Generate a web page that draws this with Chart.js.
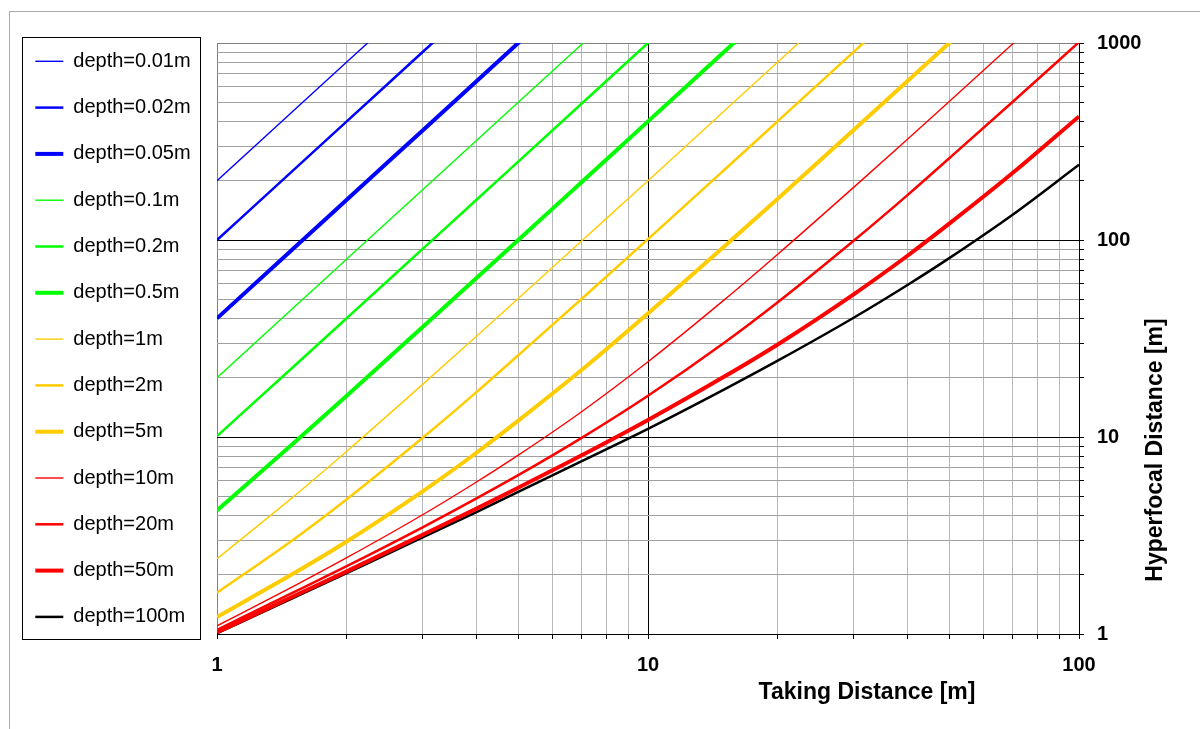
<!DOCTYPE html>
<html>
<head>
<meta charset="utf-8">
<title>Hyperfocal distance</title>
<script src="https://cdn.jsdelivr.net/npm/chart.js@4.4.1/dist/chart.umd.min.js"></script>
<style>
  body { margin: 0; background: #fff; }
  #graph-container { width: 1200px; height: 729px; }
</style>
</head>
<body>
<div id="graph-container"><canvas id="hyperfocal-graph" width="1200" height="729"></canvas></div>
<script>
// taking distance [m] where the curves were read
const takingDistance = [1, 1.5, 2, 3, 4, 5, 7, 10, 15, 20, 30, 40, 50, 70, 100];

const depthLabels = ['depth=0.01m', 'depth=0.02m', 'depth=0.05m',
  'depth=0.1m', 'depth=0.2m', 'depth=0.5m',
  'depth=1m', 'depth=2m', 'depth=5m',
  'depth=10m', 'depth=20m', 'depth=50m', 'depth=100m'];

// hyperfocal distance [m] (last point is past the top edge)
const depth001 = [200, 450, 800, 1800];
const depth002 = [100, 225, 400, 900, 1600];
const depth005 = [40, 90, 160, 360, 640, 1000, 1960];
const depth01 = [20, 45, 80, 180, 320, 500, 980, 2000];
const depth02 = [10.1, 22.6, 40.1, 90.1, 160, 250, 490, 1000, 2250];
const depth05 = [4.24, 9.24, 16.2, 36.2, 64.2, 100, 196, 400, 900, 1600];
const depth1 = [2.41, 4.95, 8.47, 18.5, 32.5, 50.5, 98.5, 200, 450, 800, 1800];
const depth2 = [1.62, 3.0, 4.83, 9.91, 16.9, 26.0, 50.0, 101, 226, 401, 901, 1600];
const depth5 = [1.22, 2.02, 2.95, 5.30, 8.32, 12.1, 21.8, 42.4, 92.4, 162, 362, 642, 1000, 1960];
const depth10 = [1.10, 1.74, 2.44, 4.03, 5.91, 8.09, 13.4, 24.1, 49.5, 84.7, 185, 325, 505, 985, 2000];
const depth20 = [1.05, 1.62, 2.21, 3.48, 4.88, 6.40, 9.87, 16.2, 30.0, 48.3, 99.1, 169, 260, 500, 1010];
const depth50 = [1.02, 1.55, 2.08, 3.19, 4.33, 5.53, 8.05, 12.2, 20.2, 29.5, 53.0, 83.2, 121, 218, 424];
const depth100 = [1.01, 1.52, 2.04, 3.09, 4.16, 5.26, 7.52, 11.0, 17.4, 24.4, 40.3, 59.1, 80.9, 134, 241];

const depthSeries = [depth001, depth002, depth005, depth01, depth02, depth05,
  depth1, depth2, depth5, depth10, depth20, depth50, depth100];

// axis ticks / grid
const xTickLabels = [1, 10, 100];
const yTickLabels = [1, 10, 100, 1000];
const xGridValues = [1, 2, 3, 4, 5, 6, 7, 8, 9, 10, 20, 30, 40, 50, 60, 70, 80, 90, 100];
const yGridValues = [1, 2, 3, 4, 5, 6, 7, 8, 9, 10, 20, 30, 40, 50, 60, 70, 80, 90,
  100, 200, 300, 400, 500, 600, 700, 800, 900, 1000];

const xTitle = 'Taking Distance [m]';
const yTitle = 'Hyperfocal Distance [m]';

// styles
const lineColors = ['#0000ff', '#0000ff', '#0000ff', '#00ff00', '#00ff00', '#00ff00',
  '#ffcc00', '#ffcc00', '#ffcc00', '#ff0000', '#ff0000', '#ff0000', '#000000'];
const lineWidths = [1.4, 2.5, 4, 1.4, 2.5, 4, 1.4, 2.5, 4, 1.4, 2.5, 4, 2.5];

const FONT = "'Liberation Sans', Arial, sans-serif";
const LEGEND_WIDTH = 208;

let datasets = depthSeries.map(function (values, i) {
  return {
    label: depthLabels[i],
    data: values,
    borderColor: lineColors[i],
    backgroundColor: lineColors[i],
    borderWidth: lineWidths[i],
    cubicInterpolationMode: 'monotone',
    pointRadius: 0,
    fill: false,
    clip: 0
  };
});

function xGridColor(c) {
  let v = c.tick ? c.tick.value : null;
  if (v === 10 || v === 100) return '#000';
  if (v === 1) return '#808080';
  return '#b8b8b8';
}

function yGridColor(c) {
  let v = c.tick ? c.tick.value : null;
  if (v === 1 || v === 10 || v === 100) return '#000';
  if (v === 1000) return '#808080';
  return '#a0a0a0';
}

// frame, legend box, axis titles
const chartDecor = {
  id: 'chartDecor',
  beforeLayout(chart) {
    let lg = chart.legend;
    if (lg && !lg._fixedWidth) {
      let fit = lg.fit;
      lg.fit = function () {
        fit.call(this);
        this.width = LEGEND_WIDTH;
      };
      lg._fixedWidth = true;
    }
  },
  beforeDraw(chart) {
    let ctx = chart.ctx;
    ctx.save();
    ctx.strokeStyle = '#ababab';
    ctx.lineWidth = 1;
    ctx.strokeRect(9.5, 11.5, 1400, 900);
    ctx.restore();
  },
  afterDraw(chart) {
    let ctx = chart.ctx;
    let lg = chart.legend;
    ctx.save();
    ctx.strokeStyle = '#000';
    ctx.lineWidth = 1;
    ctx.strokeRect(lg.left + 13.5, lg.top + 12.5, 178, 602);

    ctx.fillStyle = '#000';
    ctx.font = 'bold 23px ' + FONT;
    ctx.textAlign = 'center';
    ctx.textBaseline = 'alphabetic';
    ctx.fillText(xTitle, 867, 699);

    ctx.translate(1162, 450);
    ctx.rotate(-Math.PI / 2);
    ctx.fillText(yTitle, 0, 0);
    ctx.restore();
  }
};

let ctx = document.getElementById('hyperfocal-graph').getContext('2d');

let myChart = new Chart(ctx, {
  type: 'line',
  data: {
    labels: takingDistance,
    datasets: datasets
  },
  plugins: [chartDecor],
  options: {
    responsive: false,
    animation: false,
    devicePixelRatio: 1,
    layout: { padding: { left: 9, top: 25, right: 0, bottom: 0 } },
    plugins: {
      tooltip: { enabled: false },
      title: { display: false },
      legend: {
        position: 'left',
        align: 'start',
        labels: {
          usePointStyle: true,
          pointStyle: 'line',
          pointStyleWidth: 28,
          padding: 26.3,
          color: '#000',
          font: { family: FONT, size: 20 }
        }
      }
    },
    scales: {
      x: {
        type: 'logarithmic',
        min: 1,
        max: 100,
        afterBuildTicks: function (scale) {
          scale.ticks = xGridValues.map(v => ({ value: v }));
        },
        afterFit: function (scale) {
          scale.height = 95;
        },
        grid: { color: xGridColor, tickColor: '#000', tickLength: 5, lineWidth: 1 },
        border: { color: '#000', width: 1 },
        ticks: {
          autoSkip: false,
          maxRotation: 0,
          padding: 14,
          color: '#000',
          font: { family: FONT, size: 20, weight: 'bold' },
          callback: function (v) { return xTickLabels.includes(v) ? String(v) : ''; }
        }
      },
      y: {
        type: 'logarithmic',
        position: 'right',
        min: 1,
        max: 1000,
        afterBuildTicks: function (scale) {
          scale.ticks = yGridValues.map(v => ({ value: v }));
        },
        afterFit: function (scale) {
          scale.width = 121;
          scale.paddingTop = 43;
        },
        grid: { color: yGridColor, tickColor: '#000', tickLength: 5, lineWidth: 1 },
        border: { color: '#000', width: 1 },
        ticks: {
          autoSkip: false,
          padding: 13,
          color: '#000',
          font: { family: FONT, size: 20, weight: 'bold' },
          callback: function (v) { return yTickLabels.includes(v) ? String(v) : ''; }
        }
      }
    }
  }
});
</script>
</body>
</html>
